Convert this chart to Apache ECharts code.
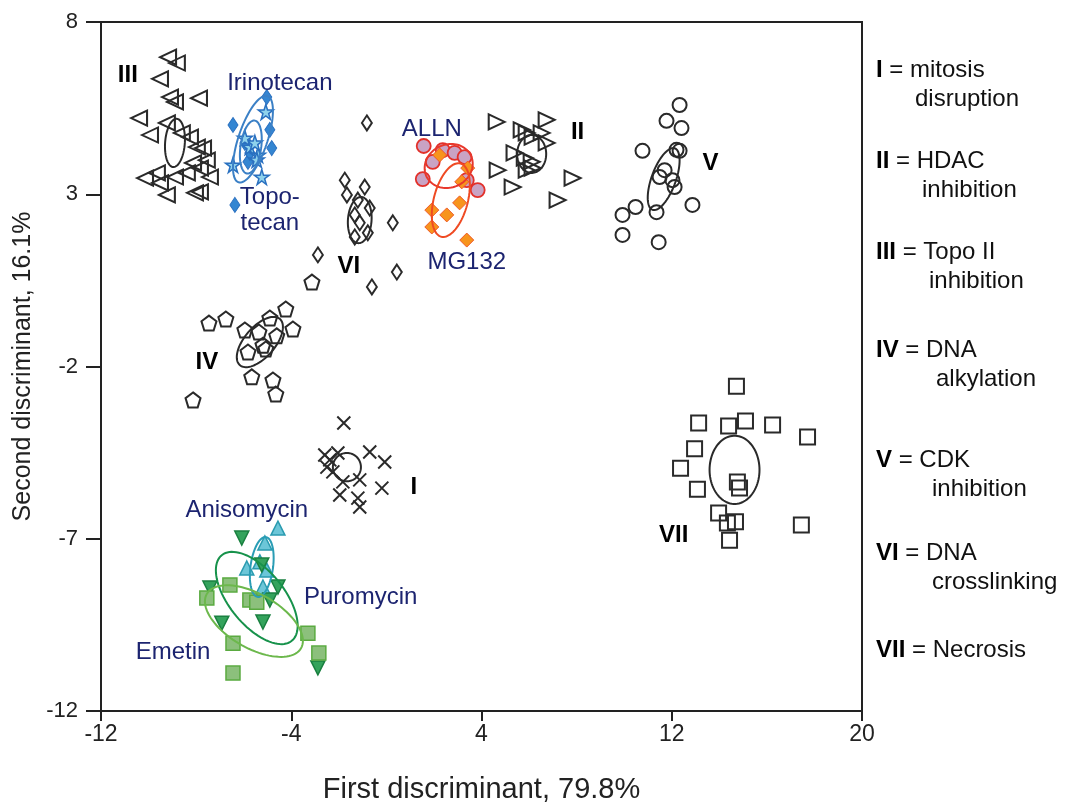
<!DOCTYPE html>
<html>
<head>
<meta charset="UTF-8">
<title>Discriminant analysis</title>
<script src="https://cdn.jsdelivr.net/npm/echarts@6/dist/echarts.min.js"></script>
<style>
  html, body { margin: 0; padding: 0; background: #fff; }
  #main { width: 1071px; height: 809px; }
</style>
</head>
<body>
<div id="main"></div>
<script>
// axis ticks
var xTicks = [-12, -4, 4, 12, 20];
var yTicks = [-12, -7, -2, 3, 8];

// mechanism clusters, [first, second] discriminant
var mitosis = [[-1.79, -3.64], [-2.59, -4.57], [-2.38, -4.71], [-2.04, -4.51], [-2.50, -4.92], [-2.25, -5.06], [-0.70, -4.48], [-0.07, -4.77], [-1.83, -5.35], [-1.12, -5.29], [-0.19, -5.53], [-1.96, -5.73], [-1.20, -5.82], [-1.12, -6.08]];
var hdac = [[4.64, 5.10], [6.74, 5.16], [5.69, 4.87], [5.90, 4.78], [6.15, 4.66], [6.53, 4.78], [6.74, 4.49], [5.39, 4.20], [5.82, 4.05], [6.11, 3.94], [4.68, 3.70], [5.90, 3.70], [6.15, 3.76], [5.31, 3.21], [7.83, 3.47], [7.20, 2.83]];
var topo = [[-9.18, 6.98], [-8.81, 6.81], [-9.52, 6.35], [-9.10, 5.82], [-8.89, 5.68], [-7.88, 5.79], [-10.40, 5.21], [-9.23, 5.07], [-9.94, 4.72], [-8.60, 4.78], [-8.26, 4.66], [-7.97, 4.37], [-7.71, 4.34], [-7.55, 3.99], [-8.13, 3.91], [-9.65, 3.62], [-10.15, 3.47], [-8.89, 3.50], [-8.39, 3.62], [-7.42, 3.50], [-7.84, 3.76], [-9.52, 3.33], [-9.23, 2.98], [-8.05, 3.04], [-7.84, 3.07]];
var alkylation = [[-7.46, -0.74], [-6.75, -0.62], [-4.23, -0.33], [-5.95, -0.94], [-4.90, -0.59], [-5.36, -1.00], [-3.93, -0.91], [-4.61, -1.11], [-5.19, -1.38], [-5.07, -1.49], [-5.82, -1.58], [-5.66, -2.30], [-4.77, -2.39], [-4.65, -2.80], [-8.13, -2.97], [-3.13, 0.45]];
var cdk = [[12.33, 5.59], [11.78, 5.13], [12.41, 4.92], [10.77, 4.26], [12.20, 4.29], [12.33, 4.26], [11.70, 3.70], [11.49, 3.50], [12.03, 3.41], [12.12, 3.21], [10.48, 2.63], [9.93, 2.40], [11.36, 2.48], [12.87, 2.69], [9.93, 1.82], [11.45, 1.61]];
var crosslink = [[-0.82, 5.07], [-1.75, 3.41], [-0.91, 3.21], [-1.66, 2.98], [-0.70, 2.60], [-1.20, 2.83], [-1.12, 2.17], [-1.33, 1.76], [-0.78, 1.88], [0.27, 2.17], [-2.88, 1.24], [0.44, 0.74], [-0.61, 0.31], [-1.33, 2.40]];
var necrosis = [[14.72, -2.57], [13.13, -3.64], [14.39, -3.73], [15.10, -3.58], [16.24, -3.70], [17.71, -4.05], [12.96, -4.39], [12.37, -4.95], [14.76, -5.35], [14.85, -5.53], [13.08, -5.56], [13.97, -6.25], [14.34, -6.54], [14.68, -6.51], [14.43, -7.04], [17.45, -6.60]];

// reference compounds
var irinotecan = [[-5.03, 5.82], [-6.45, 5.01], [-4.90, 4.87], [-4.82, 4.34], [-5.82, 3.94], [-6.37, 2.69], [-5.95, 4.49], [-5.74, 4.20]];
var topotecan = [[-5.07, 5.39], [-6.45, 3.85], [-5.24, 3.50], [-5.40, 4.14], [-5.74, 4.37], [-5.53, 4.49], [-5.95, 4.63], [-5.45, 4.00]];
var alln = [[1.57, 4.40], [1.95, 3.94], [2.37, 4.28], [2.87, 4.20], [3.29, 4.08], [1.53, 3.44], [3.38, 3.41], [3.84, 3.12]];
var mg132 = [[2.24, 4.14], [3.42, 3.76], [3.17, 3.36], [3.08, 2.75], [1.91, 2.54], [2.54, 2.40], [1.91, 2.05], [3.38, 1.67]];
var anisomycin = [[-4.56, -6.69], [-5.11, -7.12], [-5.87, -7.85], [-5.32, -7.67], [-5.03, -7.91], [-5.19, -8.40]];
var puromycin = [[-6.08, -6.98], [-5.24, -7.76], [-7.42, -8.43], [-4.56, -8.40], [-4.90, -8.78], [-6.92, -9.45], [-5.19, -9.42], [-2.88, -10.75]];
var emetin = [[-6.58, -8.34], [-7.55, -8.72], [-5.74, -8.78], [-5.45, -8.84], [-3.30, -9.74], [-6.45, -10.03], [-2.84, -10.32], [-6.45, -10.90]];

// group ellipses: centre x, centre y, half width, half height, correlation
var ellipseNames = ['III', 'Irinotecan', 'Topotecan', 'VI', 'ALLN', 'MG132', 'II', 'V', 'IV', 'I', 'VII', 'Anisomycin', 'Puromycin', 'Emetin'];
var ellipseStats = [
  [-8.89, 4.49, 0.42, 0.70, 0.15],
  [-5.61, 4.60, 0.84, 1.26, 0.65],
  [-5.70, 4.37, 0.46, 0.77, 0.3],
  [-1.12, 2.25, 0.50, 0.67, 0.1],
  [2.62, 3.82, 1.01, 0.64, 0.1],
  [2.71, 2.83, 0.80, 1.07, 0.4],
  [6.11, 4.17, 0.61, 0.55, 0.0],
  [11.66, 3.44, 0.67, 0.90, 0.6],
  [-5.32, -1.29, 0.97, 0.73, 0.6],
  [-1.66, -4.92, 0.59, 0.41, 0.0],
  [14.64, -5.00, 1.05, 0.99, 0.0],
  [-5.24, -7.82, 0.50, 0.87, 0.3],
  [-5.45, -8.72, 1.72, 1.34, -0.6],
  [-5.57, -9.39, 2.06, 1.04, -0.55]
];

// annotations placed in data space
var romanNames = ['III', 'II', 'V', 'VI', 'IV', 'I', 'VII'];
var romanPos = [[-10.87, 6.46], [8.04, 4.81], [13.63, 3.91], [-1.58, 0.92], [-7.55, -1.87], [1.15, -5.50], [12.08, -6.89]];
var drugNames = ['Irinotecan', 'Topo-\ntecan', 'ALLN', 'MG132', 'Anisomycin', 'Puromycin', 'Emetin'];
var drugPos = [[-4.48, 6.23], [-4.90, 2.54], [1.91, 4.87], [3.38, 1.03], [-5.87, -6.17], [-1.08, -8.69], [-8.97, -10.29]];

// key on the right
var keyTerms = [['I', 'mitosis', 'disruption'], ['II', 'HDAC', 'inhibition'], ['III', 'Topo II', 'inhibition'], ['IV', 'DNA', 'alkylation'], ['V', 'CDK', 'inhibition'], ['VI', 'DNA', 'crosslinking'], ['VII', 'Necrosis', '']];

var font = 'Liberation Sans, Arial, Helvetica, sans-serif';
var dark = '#2a2a2a';
var clear = 'rgba(0,0,0,0)';
var ellipseColors = {
  Irinotecan: '#3b80c6', Topotecan: '#3b80c6', ALLN: '#e8382c', MG132: '#ef4a23',
  Anisomycin: '#2a9db5', Puromycin: '#17924b', Emetin: '#6cb84c'
};

var pentagon = 'path://M10,0 L19.5,6.9 L15.9,18.1 L4.1,18.1 L0.5,6.9 Z';
var cross = 'path://M0,0 L10,10 M10,0 L0,10';
var star = 'path://M50,2 L61,36 L97,36 L68,57 L79,92 L50,71 L21,92 L32,57 L3,36 L39,36 Z';

function pts(data, symbol, size, rot, fill, stroke, lw) {
  return {
    type: 'scatter', data: data, symbol: symbol, symbolSize: size, symbolRotate: rot,
    silent: true, z: 2, emphasis: { disabled: true },
    itemStyle: { color: fill, borderColor: stroke, borderWidth: lw, opacity: 1 }
  };
}

function textSeries(names, pos, style) {
  return {
    type: 'scatter', silent: true, z: 5, symbolSize: 1, emphasis: { disabled: true },
    itemStyle: { color: clear, opacity: 1 },
    data: names.map(function (n, i) { return { name: n, value: pos[i] }; }),
    label: Object.assign({ show: true, position: 'inside', formatter: '{b}', fontFamily: font, opacity: 1 }, style)
  };
}

var series = [
  pts(topo, 'triangle', [15, 16], 90, clear, dark, 2),
  pts(hdac, 'triangle', [15, 16], -90, clear, dark, 2),
  pts(cdk, 'circle', 14, 0, clear, dark, 2),
  pts(crosslink, 'diamond', [10, 15], 0, clear, dark, 2),
  pts(alkylation, pentagon, 15, 0, clear, dark, 2),
  pts(mitosis, cross, 13, 0, clear, dark, 2),
  pts(necrosis, 'rect', 15, 0, clear, dark, 2),
  pts(irinotecan, 'diamond', [10, 15], 0, '#3486d2', '#2a70c0', 1),
  pts(topotecan, star, 15, 0, '#8fd2ec', '#2a70c0', 1.5),
  pts(alln, 'circle', 14, 0, '#c9a3c4', '#e2302a', 1.8),
  pts(mg132, 'diamond', 14, 0, '#f7941d', '#f05a28', 1),
  pts(anisomycin, 'triangle', 14, 0, '#6cc6d8', '#2a9bb0', 1.5),
  pts(puromycin, 'triangle', 14, 180, '#34a35c', '#1a8040', 1.5),
  pts(emetin, 'rect', 14, 0, '#8cc07c', '#5aaa40', 1.5),
  {
    type: 'custom', silent: true, z: 3,
    data: ellipseStats,
    encode: { x: 0, y: 1 },
    renderItem: function (params, api) {
      var cx = api.value(0), cy = api.value(1), hw = api.value(2), hh = api.value(3), r = api.value(4);
      var s = Math.sqrt(1 - r * r);
      var p = [];
      for (var k = 0; k < 90; k++) {
        var t = k / 90 * 2 * Math.PI;
        p.push(api.coord([cx + hw * Math.cos(t), cy + hh * (r * Math.cos(t) + s * Math.sin(t))]));
      }
      var name = ellipseNames[params.dataIndex];
      return {
        type: 'polygon', shape: { points: p },
        style: { fill: 'none', stroke: ellipseColors[name] || dark, lineWidth: 2 }
      };
    }
  },
  textSeries(romanNames, romanPos, { fontSize: 24, fontWeight: 'bold', color: '#000' }),
  textSeries(drugNames, drugPos, { fontSize: 24, color: '#1c2470', lineHeight: 26 })
];

// key layout (pixels)
var keyY = [70, 161, 252, 350, 460, 553, 650];
var keyIndent = [915, 922, 929, 936, 932, 932, 0];
var graphics = [];
keyTerms.forEach(function (k, i) {
  graphics.push({
    type: 'text', x: 876, y: keyY[i],
    style: {
      text: '{b|' + k[0] + '} = ' + k[1], font: '24px ' + font, fill: '#111', verticalAlign: 'middle',
      rich: { b: { fontWeight: 'bold', fontSize: 24, fontFamily: font, fill: '#000' } }
    }
  });
  if (k[2]) {
    graphics.push({
      type: 'text', x: keyIndent[i], y: keyY[i] + 29,
      style: { text: k[2], font: '24px ' + font, fill: '#111', verticalAlign: 'middle' }
    });
  }
});

var chart = echarts.init(document.getElementById('main'));
chart.setOption({
  animation: false,
  backgroundColor: '#fff',
  grid: { left: 101, right: 209, top: 22, bottom: 98, show: true, borderColor: '#222', borderWidth: 2, backgroundColor: clear },
  xAxis: {
    type: 'value', min: -12, max: 20,
    name: 'First discriminant, 79.8%', nameLocation: 'middle', nameGap: 64,
    nameTextStyle: { fontSize: 29, color: '#222', fontFamily: font },
    axisLine: { onZero: false, lineStyle: { color: '#222', width: 2 } },
    axisTick: { show: true, length: 10, inside: false, customValues: xTicks, lineStyle: { color: '#222', width: 2 } },
    axisLabel: { customValues: xTicks, fontSize: 23, color: '#222', fontFamily: font, margin: 12 },
    splitLine: { show: false }
  },
  yAxis: {
    type: 'value', min: -12, max: 8,
    name: 'Second discriminant, 16.1%', nameLocation: 'middle', nameGap: 60,
    nameTextStyle: { fontSize: 25, color: '#222', fontFamily: font },
    axisLine: { onZero: false, lineStyle: { color: '#222', width: 2 } },
    axisTick: { show: true, length: 15, inside: false, customValues: yTicks, lineStyle: { color: '#222', width: 2 } },
    axisLabel: { customValues: yTicks, fontSize: 22, color: '#222', fontFamily: font, margin: 23 },
    splitLine: { show: false }
  },
  tooltip: { show: false },
  series: series,
  graphic: graphics
});
</script>
</body>
</html>
